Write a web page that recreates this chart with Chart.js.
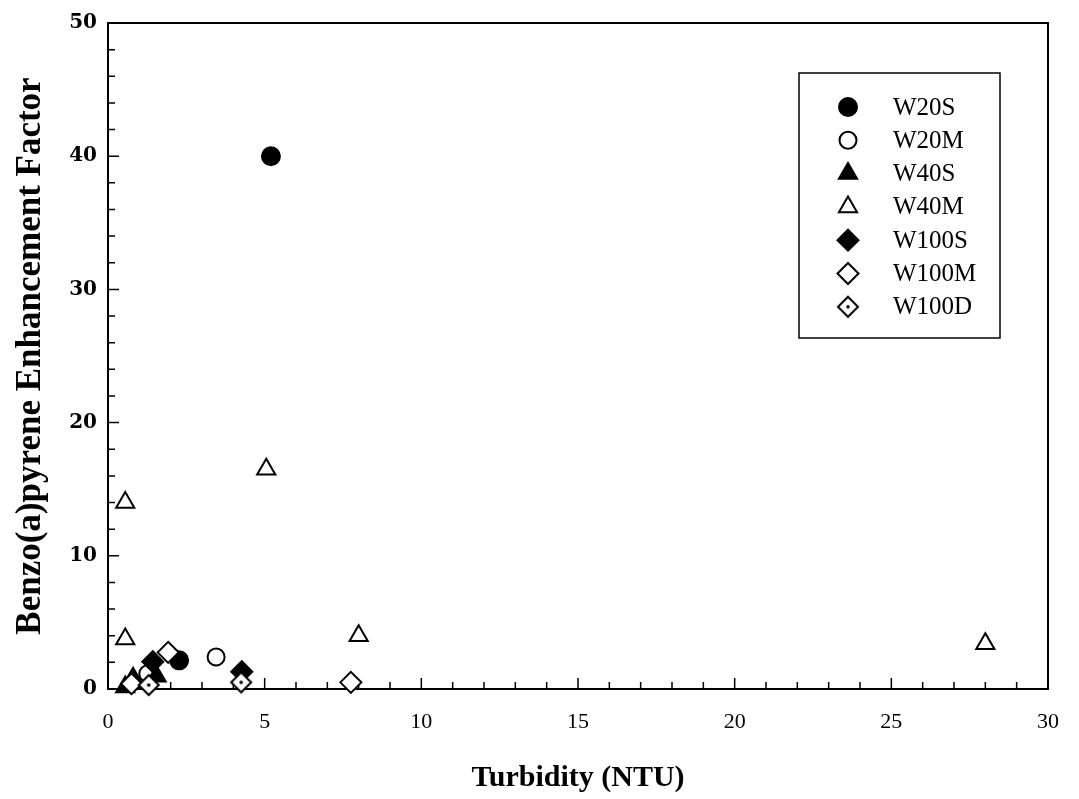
<!DOCTYPE html>
<html lang="en">
<head>
<meta charset="UTF-8">
<title>Benzo(a)pyrene Enhancement Factor vs Turbidity</title>
<script src="https://cdn.jsdelivr.net/npm/chart.js"></script>
<style>
    body { margin: 0; background: #fff; }
    .chart-box { width: 1079px; height: 799px; }
</style>
</head>
<body>
<div class="chart-box"><canvas id="bapChart"></canvas></div>
<script>
    // values
    const seriesNames = ['W20S', 'W20M', 'W40S', 'W40M', 'W100S', 'W100M', 'W100D'];
    const w20sX = [5.2, 2.27];
    const w20sY = [40.0, 2.15];
    const w20mX = [3.45, 1.27];
    const w20mY = [2.4, 1.15];
    const w40sX = [1.55, 0.8, 0.55];
    const w40sY = [0.95, 0.8, 0.15];
    const w40mX = [0.55, 5.05, 0.55, 8.0, 28.0];
    const w40mY = [14.0, 16.5, 3.75, 4.0, 3.4];
    const w100sX = [1.43, 4.27];
    const w100sY = [2.05, 1.3];
    const w100mX = [1.92, 0.75, 7.75];
    const w100mY = [2.75, 0.4, 0.5];
    const w100dX = [1.3, 4.25];
    const w100dY = [0.3, 0.5];

    const xTicks = [0, 5, 10, 15, 20, 25, 30];
    const yTicks = [0, 10, 20, 30, 40, 50];
    const xMinorStep = 1;
    const yMinorStep = 2;

    const serif = '"Liberation Serif", "Times New Roman", serif';

    function pts(xs, ys) {
        return xs.map((x, i) => ({ x: x, y: ys[i] }));
    }

    // diamond with a dot in the middle (W100D)
    function dottedDiamond() {
        const c = document.createElement('canvas');
        c.width = 26; c.height = 26;
        const g = c.getContext('2d');
        g.beginPath();
        g.moveTo(13, 3); g.lineTo(23, 13); g.lineTo(13, 23); g.lineTo(3, 13);
        g.closePath();
        g.fillStyle = '#fff'; g.fill();
        g.strokeStyle = '#000'; g.lineWidth = 2; g.stroke();
        g.beginPath();
        g.arc(13, 13, 1.8, 0, Math.PI * 2);
        g.fillStyle = '#000'; g.fill();
        return c;
    }

    const styles = [
        { pointStyle: 'circle', radius: 9, fill: '#000' },
        { pointStyle: 'circle', radius: 8.5, fill: '#fff' },
        { pointStyle: 'triangle', radius: 10.5, fill: '#000' },
        { pointStyle: 'triangle', radius: 10.5, fill: '#fff' },
        { pointStyle: 'rectRot', radius: 10.5, fill: '#000' },
        { pointStyle: 'rectRot', radius: 10.5, fill: '#fff' },
        { pointStyle: dottedDiamond(), radius: 10.5, fill: '#fff' }
    ];
    const seriesData = [
        pts(w20sX, w20sY), pts(w20mX, w20mY), pts(w40sX, w40sY), pts(w40mX, w40mY),
        pts(w100sX, w100sY), pts(w100mX, w100mY), pts(w100dX, w100dY)
    ];

    const datasets = seriesNames.map((name, i) => ({
        label: name,
        data: seriesData[i],
        pointStyle: styles[i].pointStyle,
        pointRadius: styles[i].radius,
        pointBackgroundColor: styles[i].fill,
        pointBorderColor: '#000',
        pointBorderWidth: 2,
        showLine: false,
        clip: false,
        order: seriesNames.length - i
    }));

    // box frame + inward tick marks
    const frameTicks = {
        id: 'frameTicks',
        beforeDatasetsDraw(chart) {
            const ctx = chart.ctx;
            const a = chart.chartArea;
            const xs = chart.scales.x, ys = chart.scales.y;
            ctx.save();
            ctx.strokeStyle = '#000';
            ctx.lineWidth = 2;
            ctx.strokeRect(a.left, a.top, a.right - a.left, a.bottom - a.top);
            ctx.lineWidth = 1.5;
            ctx.beginPath();
            for (let v = xs.min; v <= xs.max; v += xMinorStep) {
                const px = xs.getPixelForValue(v);
                const len = xTicks.includes(v) ? 11 : 7;
                ctx.moveTo(px, a.bottom);
                ctx.lineTo(px, a.bottom - len);
            }
            for (let v = ys.min; v <= ys.max; v += yMinorStep) {
                const py = ys.getPixelForValue(v);
                const len = yTicks.includes(v) ? 11 : 7;
                ctx.moveTo(a.left, py);
                ctx.lineTo(a.left + len, py);
            }
            ctx.stroke();
            ctx.restore();
        }
    };

    // legend drawn inside the plot, with a box round it
    const boxLegend = {
        id: 'boxLegend',
        afterDraw(chart) {
            const ctx = chart.ctx;
            const a = chart.chartArea;
            const bx = a.right - 249, by = a.top + 50, bw = 201, bh = 265;
            ctx.save();
            ctx.strokeStyle = '#000';
            ctx.lineWidth = 1.5;
            ctx.strokeRect(bx, by, bw, bh);
            ctx.font = '25px ' + serif;
            ctx.textBaseline = 'middle';
            chart.data.datasets.forEach((ds, i) => {
                const y = by + 34 + i * 33.3;
                ctx.fillStyle = ds.pointBackgroundColor;
                ctx.strokeStyle = '#000';
                ctx.lineWidth = 2;
                Chart.helpers.drawPoint(ctx, {
                    pointStyle: ds.pointStyle, radius: ds.pointRadius, borderWidth: 2, rotation: 0
                }, bx + 49, y);
                ctx.fillStyle = '#000';
                ctx.fillText(ds.label, bx + 94, y + 1);
            });
            ctx.restore();
        }
    };

    new Chart(document.getElementById('bapChart'), {
        type: 'scatter',
        data: { datasets: datasets },
        options: {
            responsive: true,
            maintainAspectRatio: false,
            animation: false,
            layout: { padding: { top: 18, right: 17, left: 0, bottom: 0 } },
            plugins: {
                legend: { display: false },
                tooltip: { enabled: false }
            },
            scales: {
                x: {
                    type: 'linear',
                    min: 0,
                    max: 30,
                    afterBuildTicks: s => { s.ticks = xTicks.map(v => ({ value: v })); },
                    afterFit: s => { s.height = 110; },
                    grid: { display: false, drawTicks: false },
                    border: { display: false },
                    ticks: { color: '#000', padding: 20, maxRotation: 0, font: { family: serif, size: 22 } },
                    title: {
                        display: true,
                        text: 'Turbidity (NTU)',
                        color: '#000',
                        font: { family: serif, size: 30, weight: 'bold' },
                        padding: { top: 0, bottom: 3 }
                    }
                },
                y: {
                    type: 'linear',
                    min: 0,
                    max: 50,
                    afterBuildTicks: s => { s.ticks = yTicks.map(v => ({ value: v })); },
                    afterFit: s => { s.width = 108; },
                    grid: { display: false, drawTicks: false },
                    border: { display: false },
                    ticks: { color: '#000', padding: 11, font: { family: '"DejaVu Serif", serif', size: 20, weight: 'bold' } },
                    title: {
                        display: true,
                        text: 'Benzo(a)pyrene Enhancement Factor',
                        color: '#000',
                        font: { family: serif, size: 35, weight: 'bold' },
                        padding: { top: 10, bottom: 0 }
                    }
                }
            }
        },
        plugins: [frameTicks, boxLegend]
    });
</script>
</body>
</html>
